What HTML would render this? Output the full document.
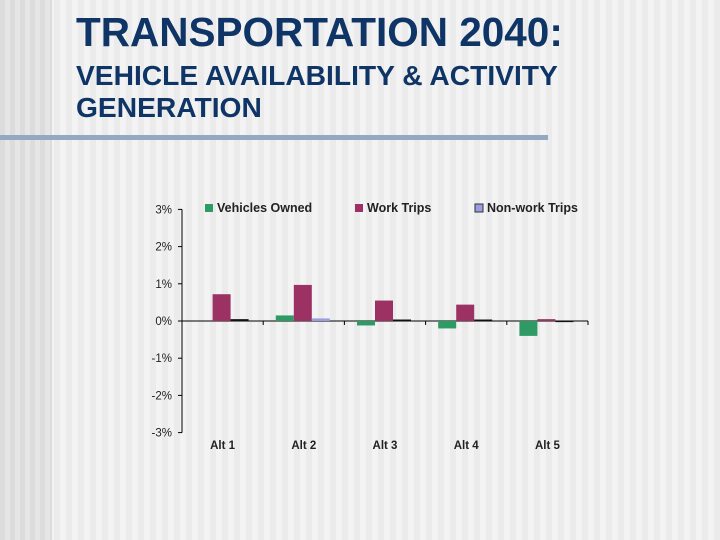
<!DOCTYPE html>
<html><head><meta charset="utf-8"><style>
body{margin:0;width:720px;height:540px;overflow:hidden;font-family:"Liberation Sans",sans-serif;
background:repeating-linear-gradient(90deg,#f3f3f3 0 6px,#ebebeb 6px 12px);position:relative}
#left{position:absolute;left:0;top:0;width:52px;height:540px;background:repeating-linear-gradient(90deg,#dcdcdc 0 5px,#e6e6e6 5px 10px)}
#t1{position:absolute;left:76px;top:9px;font-size:40.5px;line-height:46px;font-weight:bold;color:#0f3566;white-space:nowrap}
#t2{position:absolute;left:76px;top:59px;font-size:28.2px;font-weight:bold;line-height:32px;color:#0f3566;white-space:nowrap}
#rule{position:absolute;left:0;top:135px;width:548px;height:5px;background:#93a9c2}
</style></head><body>
<div id="left"></div>
<div id="t1">TRANSPORTATION 2040:</div>
<div id="t2">VEHICLE AVAILABILITY &amp; ACTIVITY<br>GENERATION</div>
<div id="rule"></div>
<svg id="chart" width="720" height="540" style="position:absolute;left:0;top:0"></svg>
<script>
const categories=["Alt 1","Alt 2","Alt 3","Alt 4","Alt 5"];
const vehicles=[0,0.15,-0.12,-0.2,-0.4];
const work=[0.72,0.97,0.55,0.44,0.05];
const nonwork=[0.05,0.07,0.04,0.04,-0.03];
const ticks=[3,2,1,0,-1,-2,-3];
const tickLabels=["3%","2%","1%","0%","-1%","-2%","-3%"];
const svg=document.getElementById('chart');const NS="http://www.w3.org/2000/svg";
const x0=182,x1=588,y0=321,ppu=37.2;
const y=v=>y0-v*ppu;
const bw=(x1-x0)/categories.length;
function mk(t,a,p){const e=document.createElementNS(NS,t);for(const k in a)e.setAttribute(k,a[k]);(p||svg).appendChild(e);return e;}
let e=mk('line',{x1:x0,x2:x0,y1:y(3),y2:y(-3),stroke:'#000'});


e=mk('line',{x1:x0,x2:x1,y1:y0,y2:y0,stroke:'#000'});


ticks.forEach((t,i)=>{
 mk('line',{x1:x0-4,x2:x0,y1:y(t),y2:y(t),stroke:'#000'});
 e=mk('text',{x:x0-10,y:y(t)+4,'text-anchor':'end','font-size':11.5,fill:'#222'});e.textContent=tickLabels[i];
 
 
});
const series=[[vehicles,'#2e9a64','vehicles'],[work,'#9b3263','work'],[nonwork,'#111','nonwork']];
categories.forEach((c,i)=>{
 const cx=x0+bw*(i+0.5);
 mk('line',{x1:x0+bw*(i+1),x2:x0+bw*(i+1),y1:y0,y2:y0+4,stroke:'#000'});
 e=mk('text',{x:cx,y:449,'text-anchor':'middle','font-size':11.5,'font-weight':'bold',fill:'#222'});e.textContent=c;
 
 
 series.forEach((s,j)=>{
  const v=s[0][i];const col=(j==2&&i==1)?'#9a9ee0':s[1];
  const r=mk('rect',{x:cx-10+(j-1)*18,y:Math.min(y(v),y0),width:18,height:Math.max(Math.abs(y(v)-y0),0.01),fill:col});
  
  
 });
});
const leg=[["Vehicles Owned",'#2e9a64',205],["Work Trips",'#9b3263',355],["Non-work Trips",'#9a9ee0',475]];
leg.forEach(l=>{
 const g=mk('g',{});
 
 
 mk('rect',{x:l[2],y:204,width:8,height:8,fill:l[1],stroke:l[2]==475?'#333':'none'},g);
 const t=mk('text',{x:l[2]+12,y:212,'font-size':12.5,'font-weight':'bold',fill:'#222'},g);t.textContent=l[0];
});
</script>
</body></html>
